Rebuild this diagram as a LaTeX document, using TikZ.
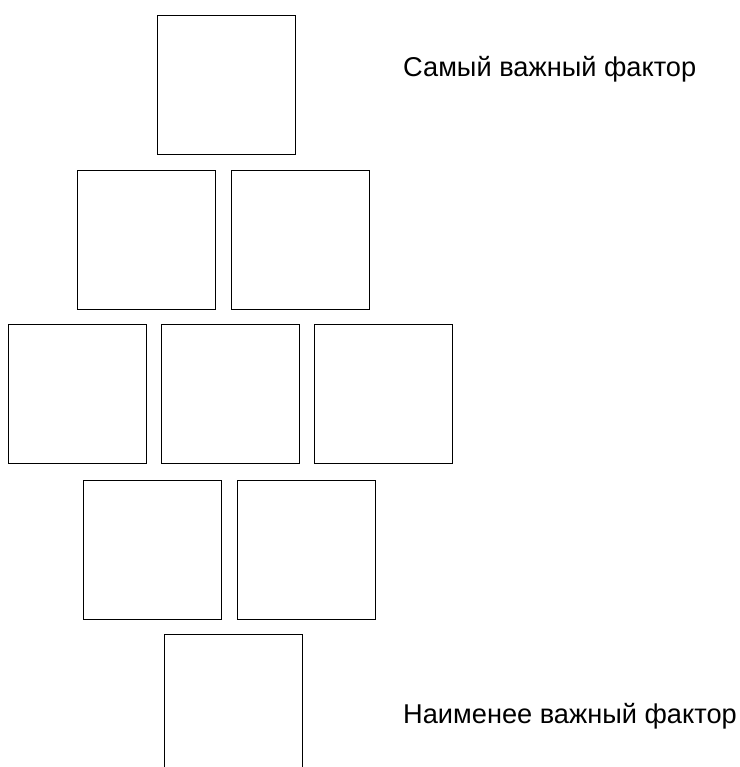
\documentclass[tikz,border=0pt]{standalone}
\usepackage{fontspec}
\setmainfont{Liberation Sans}
\usepackage{tikz}
\tikzset{factor node/.style={rectangle,draw,line width=0.8pt,minimum width=138pt,minimum height=139pt,inner sep=0pt,anchor=north west},
label node/.style={anchor=base west,inner sep=0pt,font=\fontsize{27.2}{32}\selectfont},
}
\usetikzlibrary{positioning}

\begin{document}
\begin{tikzpicture}[x=1pt,y=-1pt]
			\useasboundingbox (0,0) rectangle (739,767);
			
			%%
			\node[factor node] (1) at (157,15) {};
			%%
			\node[factor node] (2) at (77,170) {};
			\node[factor node] (3) [right = 15.2pt of 2] {};
			%%
			\node[factor node] (4) at (8,324) {};
			\node[factor node] (5) [right = 14.6pt of 4] {};
			\node[factor node] (6) [right = 13.4pt of 5] {};
			%%
			\node[factor node] (7) at (83,480) {};
			\node[factor node] (8) [right = 15.2pt of 7] {};
			%%
			\node[factor node] (9) at (164,634) {};
			
			\node[label node] (most) at (403,77) {Самый важный фактор};
			\node[label node] (least) at (403,723) {Наименее важный фактор};
			\end{tikzpicture}
\end{document}
